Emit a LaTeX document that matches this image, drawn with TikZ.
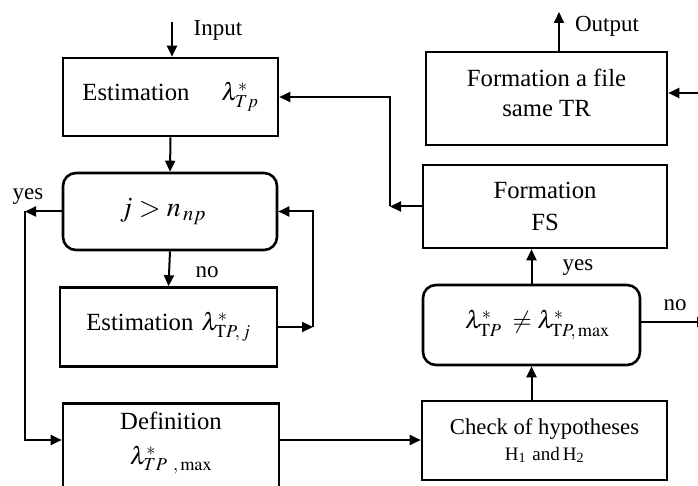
\documentclass[tikz,border=0pt]{standalone}
\usepackage{mathptmx}
\usepackage[no-math]{fontspec}
\setmainfont{Liberation Serif}
\usetikzlibrary{arrows.meta}
\begin{document}
\begin{tikzpicture}[x=1pt,y=-1pt,
  blk/.style={draw, line width=2.6pt, inner sep=0pt, align=center,
    font=\fontsize{24.7}{32}\selectfont},
  rnd/.style={blk, rounded corners=13pt},
  arr/.style={line width=2pt, -{Triangle[length=11pt,width=10pt]}},
  lbl/.style={inner sep=0pt, font=\fontsize{23}{26}\selectfont}]
\useasboundingbox (0,0) rectangle (698,486);
\clip (0,0) rectangle (698,486);

% boxes
\node[blk, minimum width=215pt, minimum height=78pt] (est1) at (170.5,97)
  {Estimation\hspace{32pt}$\lambda^{*}_{Tp}$};
\node[rnd, minimum width=214pt, minimum height=77pt, font=\fontsize{28}{32}\selectfont] (dec1) at (170,211.5)
  {\hspace{-14pt}$j > n_{\,np}$};
\node[blk, minimum width=217pt, minimum height=79pt] (est2) at (168.5,327)
  {Estimation\hspace{8pt}$\lambda^{*}_{\mathrm{T}P,\,j}$};
\node[blk, minimum width=216pt, minimum height=96pt, anchor=north] (def) at (171,402) {};
\node[lbl, align=center, font=\fontsize{24.7}{35}\selectfont] (deft) at (171,443)
  {Definition\\$\lambda^{*}_{TP\ ,\,\mathrm{max}}$};
\node[blk, minimum width=245pt, minimum height=79pt, font=\fontsize{22.7}{28}\selectfont] (check) at (544.5,440.5)
  {Check of hypotheses\\[-2pt]{\fontsize{19}{22}\selectfont H\textsubscript{1}\,\,and\,H\textsubscript{2}}};
\node[rnd, minimum width=217pt, minimum height=80pt] (dec2) at (531.5,325)
  {\hspace{12pt}\raisebox{-6pt}{$\lambda^{*}_{\mathrm{T}P}\;\neq\lambda^{*}_{\mathrm{T}P,\,\mathrm{max}}$}};
\node[blk, minimum width=244pt, minimum height=83pt] (fs) at (545,206.5)
  {Formation\\FS};
\node[blk, minimum width=241pt, minimum height=93pt] (file) at (546.5,98.5) {};
\node[lbl, align=center, font=\fontsize{24.7}{30}\selectfont] (filet) at (546.5,93)
  {Formation a file\\same TR};

% free ends
\coordinate (in) at (172,22);
\coordinate (out) at (559,12);
\coordinate (yc) at (25,211.5);
\coordinate (defin) at (25,440);
\coordinate (lp) at (313,327);
\coordinate (fsc) at (390,206.5);
\coordinate (rin) at (702,93);
\coordinate (nout) at (708,322);

% labels
\node[lbl] (inl) at (218,30) {Input};
\node[lbl] (outl) at (607,26) {Output};
\node[lbl] (yes1) at (28,197) {yes};
\node[lbl] (no1) at (207,272) {no};
\node[lbl] (yes2) at (578,268) {yes};
\node[lbl] (no2) at (675,305) {no};

% connectors
\draw[arr] (in) -- (in |- est1.north);
\draw[arr] (est1.south) -- (dec1.north);
\draw[arr] (dec1.south) -- (est2.north);
\draw[arr] (dec1.west) -- (yc);
\draw[arr] (yc) -- (defin) -- (defin -| def.west);
\draw[arr] (est2.east) -- (lp);
\draw[arr] (lp) -- (lp |- dec1.east) -- (dec1.east);
\draw[arr] (defin -| def.east) -- (defin -| check.west);
\draw[arr] (dec2.south |- check.north) -- (dec2.south);
\draw[arr] (dec2.north) -- (dec2.north |- fs.south);
\draw[arr] (dec2.east |- nout) -- (nout);
\draw[arr] (fs.west |- fsc) -- (fsc);
\draw[arr] (fsc) -- (fsc |- est1.east) -- (est1.east);
\draw[arr] (rin) -- (rin -| file.east);
\draw[arr] (out |- file.north) -- (out);
\end{tikzpicture}
\end{document}
